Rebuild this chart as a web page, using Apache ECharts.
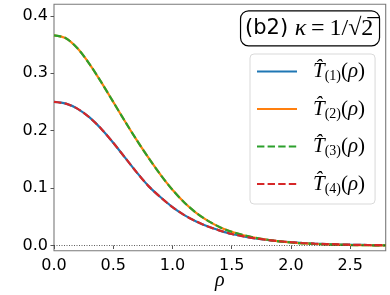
<!DOCTYPE html>
<html>
<head>
<meta charset="utf-8">
<script src="https://cdn.jsdelivr.net/npm/echarts@6/dist/echarts.min.js"></script>
<style>html,body{margin:0;padding:0;background:#fff}#c{width:390px;height:295px}</style>
</head>
<body>
<div id="c"></div>
<script>
var rho = [0.0,0.1,0.2,0.3,0.4,0.5,0.6,0.7,0.8,0.9,1.0,1.1,1.2,1.3,1.4,1.5,1.6,1.7,1.8,1.9,2.0,2.1,2.2,2.3,2.4,2.5,2.6,2.7,2.8];
var lowerVals = [0.250,0.247,0.238,0.223,0.203,0.179,0.153,0.127,0.103,0.084,0.067,0.053,0.042,0.033,0.026,0.020,0.016,0.0125,0.0097,0.0075,0.0058,0.0044,0.0034,0.0026,0.0020,0.0015,0.0011,0.0008,0.0006];
var upperVals = [0.366,0.361,0.343,0.316,0.284,0.250,0.216,0.183,0.152,0.123,0.097,0.075,0.057,0.043,0.032,0.024,0.018,0.0135,0.0100,0.0073,0.0053,0.0038,0.0027,0.0019,0.0013,0.0009,0.0006,0.0004,0.0003];
var T1 = lowerVals, T2 = upperVals, T3 = upperVals, T4 = lowerVals;
var seriesNames = ['T1','T2','T3','T4'];
var subs = ['(1)','(2)','(3)','(4)'];
var xTicks = [0,0.5,1.0,1.5,2.0,2.5];
var yTicks = [0,0.1,0.2,0.3,0.4];
var colors = ['#1f77b4','#ff7f0e','#2ca02c','#d62728'];

function pairs(vals){ return rho.map(function(r,i){ return [r, vals[i]]; }); }
var allVals = [T1,T2,T3,T4];
var dashes = ['solid','solid',[7.4,3.2],[7.4,3.2]];

var series = seriesNames.map(function(n,i){
  var s = {
    name: n, type: 'line', data: pairs(allVals[i]), smooth: 0.3,
    symbol: 'none', showSymbol: false,
    lineStyle: {color: colors[i], width: 2.2, type: dashes[i]},
    itemStyle: {color: colors[i]}, z: 2 + i
  };
  if (i === 0) {
    s.markLine = {silent: true, symbol: ['none','none'], label: {show: false},
      lineStyle: {color: '#333', width: 0.8, type: [1,1.5]},
      data: [{yAxis: 0}]};
  }
  return s;
});

var chart = echarts.init(document.getElementById('c'), null, {renderer: 'canvas'});
chart.setOption({
  animation: false,
  grid: {left: 54, right: 4.3, top: 4.3, bottom: 44.3, outerBoundsMode: 'none', containLabel: false,
    show: true, borderColor: '#7a7a7a', borderWidth: 1.1, backgroundColor: 'transparent'},
  xAxis: {
    type: 'value', min: 0, max: 2.8,
    axisLine: {show: false},
    axisTick: {show: true, inside: false, length: 3.5, lineStyle: {color: '#555'}, customValues: xTicks},
    axisLabel: {customValues: xTicks, fontFamily: 'DejaVu Sans', fontSize: 16, color: '#000', margin: 7,
      formatter: function(v){ return v.toFixed(1); }},
    splitLine: {show: false},
    name: 'ρ', nameLocation: 'middle', nameGap: 20, nameMoveOverlap: false,
    nameTextStyle: {fontFamily: 'Liberation Serif', fontStyle: 'italic', fontSize: 20, color: '#000'}
  },
  yAxis: {
    type: 'value', min: -0.009, max: 0.42,
    axisLine: {show: false},
    axisTick: {show: true, inside: false, length: 3.5, lineStyle: {color: '#555'}, customValues: yTicks},
    axisLabel: {customValues: yTicks, fontFamily: 'DejaVu Sans', fontSize: 16, color: '#000', margin: 6,
      formatter: function(v){ return v.toFixed(1); }},
    splitLine: {show: false}
  },
  title: {
    text: '{a|(b2) }{k|κ}{b|\u2009=\u20091/√2̅}',
    right: 10.7, top: 9.3,
    padding: [6, 6, 5, 5],
    borderColor: '#000', borderWidth: 1.2, borderRadius: 8, backgroundColor: '#fff',
    textStyle: {
      fontWeight: 'normal',
      rich: {
        a: {fontFamily: 'DejaVu Sans', fontWeight: 'normal', fontSize: 21, color: '#000', lineHeight: 27},
        k: {fontFamily: 'Liberation Serif', fontWeight: 'normal', fontStyle: 'italic', fontSize: 24, color: '#000', lineHeight: 27},
        b: {fontFamily: 'Liberation Serif', fontWeight: 'normal', fontSize: 24, color: '#000', lineHeight: 27}
      }
    }
  },
  legend: {
    orient: 'vertical', left: 250, top: 54,
    padding: [7, 10, 8, 6],
    itemWidth: 40, itemHeight: 14, itemGap: 15,
    itemStyle: {opacity: 0},
    borderColor: '#d9d9d9', borderWidth: 1, borderRadius: 4,
    backgroundColor: 'rgba(255,255,255,0.8)',
    data: seriesNames,
    formatter: function(n){ var i = seriesNames.indexOf(n); return '{sp|}{t|T̂}{s|' + subs[i] + '}{p|(}{r|ρ}{p|)}'; },
    textStyle: {
      rich: {
        sp: {width: 11, lineHeight: 24},
        t: {fontFamily: 'Liberation Serif', fontStyle: 'italic', fontSize: 21, color: '#000', lineHeight: 24},
        s: {fontFamily: 'Liberation Serif', fontSize: 14, color: '#000', lineHeight: 13, verticalAlign: 'bottom'},
        p: {fontFamily: 'Liberation Serif', fontSize: 21, color: '#000', lineHeight: 24},
        r: {fontFamily: 'Liberation Serif', fontStyle: 'italic', fontSize: 21, color: '#000', lineHeight: 24}
      }
    }
  },
  series: series
});
</script>
</body>
</html>
